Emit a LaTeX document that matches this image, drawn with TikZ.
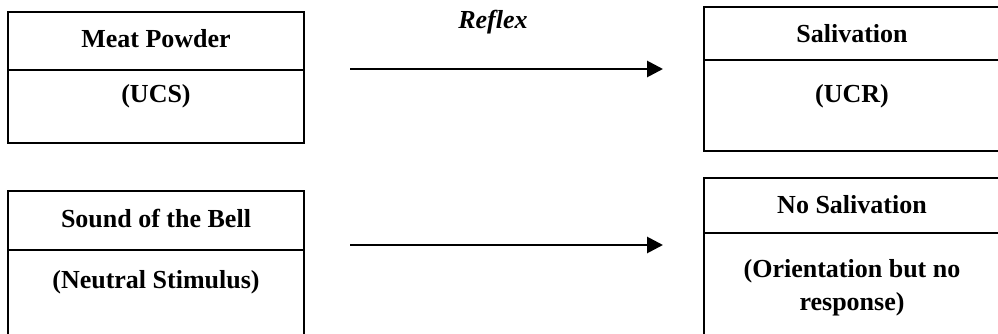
\documentclass[tikz,border=0pt]{standalone}
\usepackage{fontspec}
\setmainfont{Liberation Serif}
\usetikzlibrary{arrows.meta}
\begin{document}
\begin{tikzpicture}[x=1pt,y=-1pt,
  frame/.style={draw,line width=1.6pt,anchor=north west,inner sep=0,outer sep=0},
  divider/.style={line width=1.6pt},
  lbl/.style={font=\fontsize{26}{33}\selectfont\bfseries,align=center,inner sep=0,anchor=base},
  arr/.style={line width=2.8pt,-{Triangle[length=16pt,width=16pt]}}]
\useasboundingbox (0,0) rectangle (998,334);
\clip (0,0) rectangle (998,334);
% frames
\node[frame,minimum width=296pt,minimum height=131pt] (ucsbox) at (8,12) {};
\node[frame,minimum width=310pt,minimum height=144pt] (ucrbox) at (704,7) {};
\node[frame,minimum width=296pt,minimum height=160pt] (nsbox) at (8,191) {};
\node[frame,minimum width=310pt,minimum height=170pt] (nsalbox) at (704,178) {};
% dividers
\coordinate (d1l) at (8,70);   \coordinate (d1r) at (304,70);
\coordinate (d2l) at (704,60); \coordinate (d2r) at (1014,60);
\coordinate (d3l) at (8,250);  \coordinate (d3r) at (304,250);
\coordinate (d4l) at (704,233);\coordinate (d4r) at (1014,233);
\draw[divider] (d1l) -- (d1r);
\draw[divider] (d2l) -- (d2r);
\draw[divider] (d3l) -- (d3r);
\draw[divider] (d4l) -- (d4r);
% texts
\node[lbl] (meat) at (156,48) {Meat Powder};
\node[lbl] (ucs) at (156,103) {(UCS)};
\node[lbl] (sal) at (852,43) {Salivation};
\node[lbl] (ucr) at (852,103) {(UCR)};
\node[lbl] (bell) at (156,227) {Sound of the Bell};
\node[lbl] (neutral) at (156,288) {(Neutral Stimulus)};
\node[lbl] (nosal) at (852,213) {No Salivation};
\node[lbl] (orient) at (852,310) {(Orientation but no\\response)};
\node[lbl,font=\fontsize{26}{33}\selectfont\bfseries\itshape] (reflex) at (493,29) {Reflex};
% arrows
\coordinate (a1s) at (350,69); \coordinate (a1e) at (663,69);
\coordinate (a2s) at (350,245); \coordinate (a2e) at (663,245);
\draw[arr] (a1s) -- (a1e);
\draw[arr] (a2s) -- (a2e);
\end{tikzpicture}
\end{document}
